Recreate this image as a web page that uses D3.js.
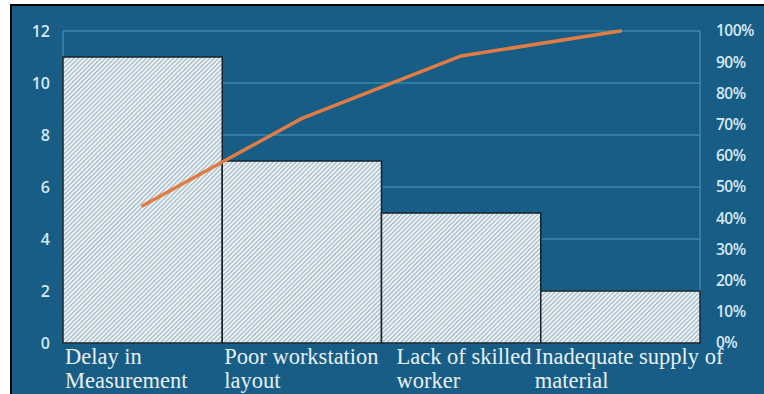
<!DOCTYPE html>
<html>
<head>
<meta charset="utf-8">
<script src="https://cdn.jsdelivr.net/npm/d3@7"></script>
<style>
  body { margin: 0; background: #fff; }
  svg { display: block; }
</style>
</head>
<body>
<svg width="764" height="394"></svg>
<script>
// data pareto
const categories = ["Delay in|Measurement", "Poor workstation|layout", "Lack of skilled|worker", "Inadequate supply of|material"];
const counts = [11, 7, 5, 2];
const leftTicks = [0, 2, 4, 6, 8, 10, 12];
const rightTicks = [0, 0.1, 0.2, 0.3, 0.4, 0.5, 0.6, 0.7, 0.8, 0.9, 1];

// hitung kumulatif persen
const total = d3.sum(counts);
let run = 0;
const cumulative = counts.map(v => (run += v) / total);

const svg = d3.select("svg");
const plotL = 63, plotR = 700, plotT = 31, plotB = 343;

// background + frame
svg.append("rect").attr("x", 11).attr("y", 5).attr("width", 753).attr("height", 389).attr("fill", "#175d85");
svg.append("path").attr("d", "M11,394V5H764").attr("fill", "none").attr("stroke", "#000").attr("stroke-width", 2);

// pola arsir
const defs = svg.append("defs");
const pat = defs.append("pattern").attr("id", "hatch").attr("patternUnits", "userSpaceOnUse")
  .attr("width", 3.2).attr("height", 3.2).attr("patternTransform", "rotate(-45)");
pat.append("rect").attr("width", 3.2).attr("height", 3.2).attr("fill", "#eaf2f5");
pat.append("rect").attr("width", 3.2).attr("height", 1.1).attr("fill", "#9fb4bf");

const x = d3.scaleBand().domain(categories).range([plotL, plotR]).padding(0);
const y = d3.scaleLinear().domain([0, 12]).range([plotB, plotT]);
const yp = d3.scaleLinear().domain([0, 1]).range([plotB, plotT]);

// grid
svg.append("g").selectAll("line").data(leftTicks).enter().append("line")
  .attr("x1", plotL).attr("x2", plotR).attr("y1", d => y(d)).attr("y2", d => y(d))
  .attr("stroke", "#3b87ae").attr("stroke-width", 1.5);
svg.append("line").attr("x1", plotL).attr("x2", plotL).attr("y1", plotT).attr("y2", plotB)
  .attr("stroke", "#3b87ae").attr("stroke-width", 1.5);
svg.append("line").attr("x1", plotR).attr("x2", plotR).attr("y1", plotT).attr("y2", plotB)
  .attr("stroke", "#3b87ae").attr("stroke-width", 1.5);

// bars
svg.append("g").selectAll("rect").data(counts).enter().append("rect")
  .attr("x", (d, i) => x(categories[i]))
  .attr("y", d => y(d))
  .attr("width", x.bandwidth())
  .attr("height", d => plotB - y(d))
  .attr("fill", "url(#hatch)")
  .attr("stroke", "#16232b")
  .attr("stroke-width", 1.5);

// cumulative line
const line = d3.line()
  .x((d, i) => x(categories[i]) + x.bandwidth() / 2)
  .y(d => yp(d));
svg.append("path").datum(cumulative).attr("d", line)
  .attr("fill", "none").attr("stroke", "#e17c44").attr("stroke-width", 3.5)
  .attr("stroke-linecap", "round").attr("stroke-linejoin", "round");

// left axis
const yAxis = svg.append("g").attr("transform", `translate(50,0)`)
  .call(d3.axisLeft(y).tickValues(leftTicks).tickSize(0).tickPadding(0));
yAxis.select(".domain").remove();
yAxis.selectAll("text").attr("fill", "#d6e8f1").style("font-family", "'Open Sans'")
  .style("font-size", "16px").style("font-weight", "600");

// right axis
const pAxis = svg.append("g").attr("transform", `translate(716,0)`)
  .call(d3.axisRight(yp).tickValues(rightTicks).tickFormat(d3.format(".0%")).tickSize(0).tickPadding(0));
pAxis.select(".domain").remove();
pAxis.selectAll("text").attr("fill", "#d6e8f1").style("font-family", "'Open Sans'")
  .style("font-size", "15.5px").style("font-weight", "600").style("letter-spacing", "-0.5px");

// x labels (text box style)
const nudge = [2, 2, 15, -6];
const lbl = svg.append("g").selectAll("text").data(categories).enter().append("text")
  .attr("x", (d, i) => x(d) + nudge[i])
  .attr("y", 364)
  .attr("fill", "#e8f0f4")
  .style("font-family", "'Liberation Serif', serif")
  .style("font-size", "22.5px");
lbl.each(function(d) {
  const parts = d.split("|");
  const t = d3.select(this);
  parts.forEach((p, k) => {
    t.append("tspan").attr("x", t.attr("x")).attr("dy", k === 0 ? 0 : 24).text(p);
  });
});
</script>
</body>
</html>
